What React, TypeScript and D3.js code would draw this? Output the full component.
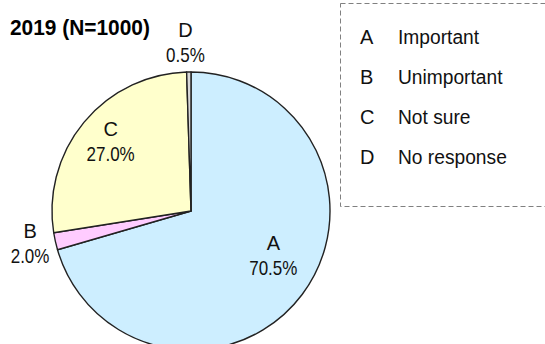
import { pie as d3pie, arc as d3arc, scaleOrdinal } from "d3";

const W = 545;
const H = 344;

const keys = ["A", "B", "C", "D"];
const names = ["Important", "Unimportant", "Not sure", "No response"];
const shares = [70.5, 2.0, 27.0, 0.5];
const title = "2019 (N=1000)";

const colors = ["#cdeeff", "#ffccff", "#ffffcc", "#d9d9d9"];
// label placement per slice: [radius factor, angle nudge in degrees]
const labelPlace: [number, number][] = [
  [0.67, -9],
  [1.18, 1.5],
  [0.765, 1.3],
  [1.215, -1],
];

const FONT = "'Liberation Sans', Arial, sans-serif";

export default function App() {
  const cx = 191;
  const cy = 211;
  const r = 139;

  const color = scaleOrdinal<string, string>().domain(keys).range(colors);

  const slices = d3pie<number>()
    .sort(null)
    .value((d) => d)(shares);

  const arc = d3arc<any>().innerRadius(0).outerRadius(r);

  return (
    <svg
      width={W}
      height={H}
      style={{ position: "absolute", left: 0, top: 0, background: "#fff" }}
      fontFamily={FONT}
    >
      <text
        transform="translate(10,35) scale(0.95,1)"
        fontSize={22}
        fontWeight="bold"
        fill="#000"
      >
        {title}
      </text>

      <g transform={`translate(${cx},${cy})`}>
        {slices.map((s, i) => (
          <path
            key={keys[i]}
            d={arc(s) ?? undefined}
            fill={color(keys[i])}
            stroke="#222"
            strokeWidth={1.4}
            strokeLinejoin="round"
          />
        ))}
        {slices.map((s, i) => {
          const [k, nudge] = labelPlace[i];
          const a = (s.startAngle + s.endAngle) / 2 + (nudge * Math.PI) / 180;
          const x = Math.sin(a) * r * k;
          const y = -Math.cos(a) * r * k;
          return (
            <g key={keys[i]} fontSize={20} fill="#111" textAnchor="middle">
              <text x={x} y={y - 5}>{keys[i]}</text>
              <text transform={`translate(${x},${y + 20}) scale(0.85,1)`}>
                {shares[i].toFixed(1)}%
              </text>
            </g>
          );
        })}
      </g>

      <rect
        x={340.5}
        y={3.5}
        width={215}
        height={203}
        fill="none"
        stroke="#808080"
        strokeDasharray="5,3"
      />
      {keys.map((k, i) => (
        <g key={k} fontSize={20} fill="#111">
          <text x={360} y={44 + i * 40}>{k}</text>
          <text transform={`translate(398,${44 + i * 40}) scale(0.96,1)`}>{names[i]}</text>
        </g>
      ))}
    </svg>
  );
}
